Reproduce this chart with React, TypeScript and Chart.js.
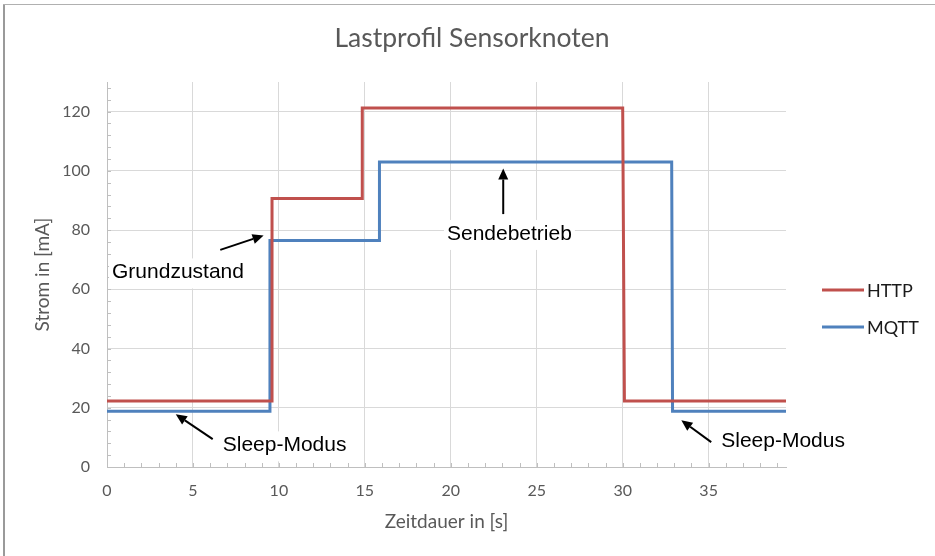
import React, { useEffect, useRef } from "react";
import { Chart, registerables } from "chart.js";

Chart.register(...registerables);

const chartTitle = "Lastprofil Sensorknoten";
const xAxisTitle = "Zeitdauer in [s]";
const yAxisTitle = "Strom in [mA]";
const seriesNames = ["HTTP", "MQTT"];

const httpTime = [0, 9.6, 9.6, 14.85, 14.85, 30.0, 30.1, 39.5];
const httpCurrent = [22.3, 22.3, 90.7, 90.7, 121.2, 121.2, 22.3, 22.3];
const mqttTime = [0, 9.48, 9.48, 15.85, 15.85, 32.85, 32.9, 39.5];
const mqttCurrent = [18.8, 18.8, 76.5, 76.5, 103, 103, 18.8, 18.8];

const xRange = [0, 39.5];
const yRange = [0, 130];
const xStep = 5;
const yStep = 20;
const xMinorStep = 1;
const yMinorStep = 4;

const noteTexts = ["Grundzustand", "Sendebetrieb", "Sleep-Modus", "Sleep-Modus"];
const noteX = [4.13, 23.41, 10.33, 39.33];
const noteY = [65.7, 78.7, 7.3, 8.8];
const arrowFromX = [6.59, 23.05, 6.15, 35.15];
const arrowFromY = [73.3, 85.4, 9.4, 8.4];
const arrowToX = [9.11, 23.05, 4.0, 33.41];
const arrowToY = [78.2, 100.8, 17.8, 15.8];

const COLORS = ["#C0504D", "#4F81BD"];
const AXIS_FONT = "Lato, 'Open Sans', sans-serif";
const NOTE_FONT = "'Liberation Sans', Arial, sans-serif";

const decorPlugin = {
  id: "decor",
  beforeDraw(chart: any) {
    const ctx = chart.ctx;
    ctx.save();
    ctx.fillStyle = "#ffffff";
    ctx.fillRect(0, 0, chart.width, chart.height);
    ctx.fillStyle = "#9a9a9a";
    ctx.fillRect(3, 4, 2, chart.height - 4);
    ctx.fillStyle = "#b0b0b0";
    ctx.fillRect(3, 4, chart.width - 3, 1);
    ctx.restore();
  },
  beforeDatasetsDraw(chart: any) {
    const ctx = chart.ctx;
    const xs = chart.scales.x;
    const ys = chart.scales.y;
    const area = chart.chartArea;
    ctx.save();
    ctx.strokeStyle = "#bfbfbf";
    ctx.lineWidth = 1;
    ctx.beginPath();
    for (let v = xRange[0] + xMinorStep; v < xRange[1]; v += xMinorStep) {
      const px = Math.round(xs.getPixelForValue(v)) + 0.5;
      ctx.moveTo(px, area.bottom);
      ctx.lineTo(px, area.bottom - 4);
    }
    for (let v = yRange[0] + yMinorStep; v < yRange[1]; v += yMinorStep) {
      const py = Math.round(ys.getPixelForValue(v)) + 0.5;
      ctx.moveTo(area.left, py);
      ctx.lineTo(area.left + 4, py);
    }
    ctx.stroke();
    ctx.font = `21px ${NOTE_FONT}`;
    ctx.fillStyle = "#ffffff";
    noteTexts.forEach((t, i) => {
      const w = ctx.measureText(t).width;
      const cx = xs.getPixelForValue(noteX[i]);
      const cy = ys.getPixelForValue(noteY[i]);
      ctx.fillRect(cx - w / 2 - 3, cy - 14, w + 6, 30);
    });
    ctx.restore();
  },
  afterDatasetsDraw(chart: any) {
    const ctx = chart.ctx;
    const xs = chart.scales.x;
    const ys = chart.scales.y;
    ctx.save();
    ctx.font = `21px ${NOTE_FONT}`;
    ctx.fillStyle = "#000000";
    ctx.textAlign = "center";
    ctx.textBaseline = "middle";
    noteTexts.forEach((t, i) => {
      ctx.fillText(t, xs.getPixelForValue(noteX[i]), ys.getPixelForValue(noteY[i]));
    });
    ctx.strokeStyle = "#000000";
    ctx.lineWidth = 2;
    noteTexts.forEach((_, i) => {
      const x1 = xs.getPixelForValue(arrowFromX[i]);
      const y1 = ys.getPixelForValue(arrowFromY[i]);
      const x2 = xs.getPixelForValue(arrowToX[i]);
      const y2 = ys.getPixelForValue(arrowToY[i]);
      const ang = Math.atan2(y2 - y1, x2 - x1);
      const head = 11;
      const half = 5;
      const bx = x2 - head * Math.cos(ang);
      const by = y2 - head * Math.sin(ang);
      ctx.beginPath();
      ctx.moveTo(x1, y1);
      ctx.lineTo(bx, by);
      ctx.stroke();
      ctx.beginPath();
      ctx.moveTo(x2, y2);
      ctx.lineTo(bx + half * Math.sin(ang), by - half * Math.cos(ang));
      ctx.lineTo(bx - half * Math.sin(ang), by + half * Math.cos(ang));
      ctx.closePath();
      ctx.fill();
    });
    ctx.restore();
  },
  afterDraw(chart: any) {
    const ctx = chart.ctx;
    ctx.save();
    ctx.font = `26.5px ${AXIS_FONT}`;
    ctx.fillStyle = "#595959";
    ctx.textAlign = "center";
    ctx.textBaseline = "alphabetic";
    ctx.fillText(chartTitle, 472, 47);
    const area = chart.chartArea;
    const lx = area.right + 36;
    const rows = [290, 327];
    ctx.font = `18px ${AXIS_FONT}`;
    ctx.textAlign = "left";
    ctx.textBaseline = "middle";
    chart.data.datasets.forEach((ds: any, i: number) => {
      ctx.strokeStyle = ds.borderColor;
      ctx.lineWidth = 3;
      ctx.beginPath();
      ctx.moveTo(lx, rows[i]);
      ctx.lineTo(lx + 42, rows[i]);
      ctx.stroke();
      ctx.fillStyle = "#1a1a1a";
      ctx.fillText(ds.label, lx + 45, rows[i] + 1);
    });
    ctx.restore();
  },
};

export default function App() {
  const ref = useRef<HTMLCanvasElement | null>(null);
  useEffect(() => {
    if (!ref.current) return;
    const httpPts = httpTime.map((x, i) => ({ x, y: httpCurrent[i] }));
    const mqttPts = mqttTime.map((x, i) => ({ x, y: mqttCurrent[i] }));
    const chart = new Chart(ref.current, {
      type: "scatter",
      data: {
        datasets: [
          {
            label: seriesNames[0],
            data: httpPts,
            showLine: true,
            borderColor: COLORS[0],
            backgroundColor: COLORS[0],
            borderWidth: 3,
            pointRadius: 0,
            tension: 0,
          },
          {
            label: seriesNames[1],
            data: mqttPts,
            showLine: true,
            borderColor: COLORS[1],
            backgroundColor: COLORS[1],
            borderWidth: 3,
            pointRadius: 0,
            tension: 0,
          },
        ],
      },
      options: {
        animation: false,
        responsive: false,
        devicePixelRatio: 1,
        layout: { padding: { top: 82, right: 149, left: 0, bottom: 0 } },
        plugins: {
          legend: { display: false },
          tooltip: { enabled: false },
          title: { display: false },
        },
        elements: { line: { borderJoinStyle: "miter", borderCapStyle: "butt" } },
        scales: {
          x: {
            type: "linear",
            min: xRange[0],
            max: xRange[1],
            ticks: {
              stepSize: xStep,
              includeBounds: false,
              color: "#595959",
              font: { family: AXIS_FONT, size: 16 },
              padding: 14,
              maxRotation: 0,
            },
            grid: { color: "#d9d9d9", drawTicks: false, lineWidth: 1 },
            border: { color: "#bfbfbf", width: 1 },
            title: {
              display: true,
              text: xAxisTitle,
              color: "#595959",
              font: { family: AXIS_FONT, size: 19 },
              padding: { top: 0, bottom: 23 },
            },
            afterFit: (s: any) => {
              s.height = 89;
            },
          },
          y: {
            type: "linear",
            min: yRange[0],
            max: yRange[1],
            ticks: {
              stepSize: yStep,
              includeBounds: false,
              color: "#595959",
              font: { family: AXIS_FONT, size: 16 },
              padding: 17,
            },
            grid: { color: "#d9d9d9", drawTicks: false, lineWidth: 1 },
            border: { color: "#bfbfbf", width: 1 },
            title: {
              display: true,
              text: yAxisTitle,
              color: "#595959",
              font: { family: AXIS_FONT, size: 19 },
              padding: { top: 31, bottom: 0 },
            },
            afterFit: (s: any) => {
              s.width = 107;
            },
          },
        },
      },
      plugins: [decorPlugin],
    });
    return () => chart.destroy();
  }, []);
  return (
    <div style={{ position: "absolute", left: 0, top: 0, width: 935, height: 556 }}>
      <canvas ref={ref} width={935} height={556} style={{ display: "block" }} />
    </div>
  );
}
